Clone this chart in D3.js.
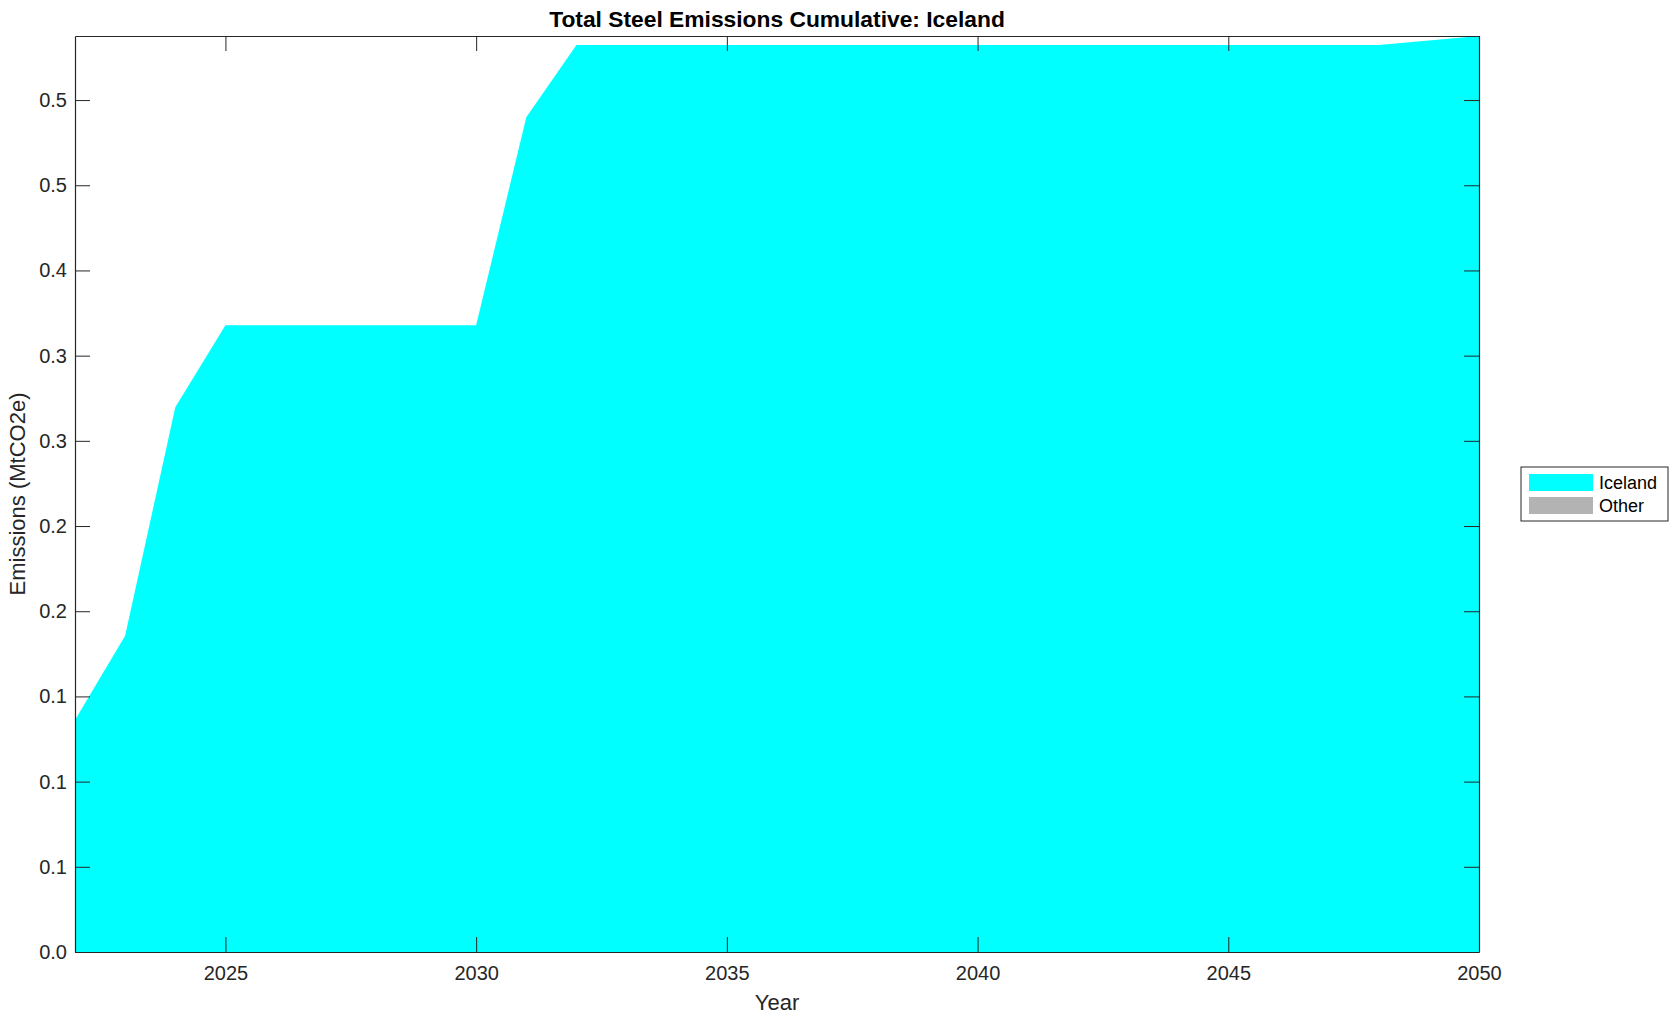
<!DOCTYPE html>
<html>
<head>
<meta charset="utf-8">
<script src="https://cdn.jsdelivr.net/npm/d3@7"></script>
<style>
  body { margin: 0; background: #fff; }
  text { font-family: "Liberation Sans", Arial, sans-serif; }
</style>
</head>
<body>
<script>
// data
const years = d3.range(2022, 2051);
const iceland = [
  0.1362, 0.1856, 0.3197, 0.3678, 0.3678, 0.3678, 0.3678, 0.3678, 0.3678,
  0.4899, 0.5323, 0.5323, 0.5323, 0.5323, 0.5323, 0.5323, 0.5323, 0.5323,
  0.5323, 0.5323, 0.5323, 0.5323, 0.5323, 0.5323, 0.5323, 0.5323, 0.5323,
  0.5350, 0.5376
];
const other = years.map(() => 0);
const seriesNames = ['Iceland', 'Other'];
const seriesColors = ['#00ffff', '#b3b3b3'];
const xTicks = [2025, 2030, 2035, 2040, 2045, 2050];
const yTicks = [0, 0.05, 0.1, 0.15, 0.2, 0.25, 0.3, 0.35, 0.4, 0.45, 0.5];
const yTickLabels = ['0.0', '0.1', '0.1', '0.1', '0.2', '0.2', '0.3', '0.3', '0.4', '0.5', '0.5'];

const W = 1679, H = 1021;
const m = { left: 75, right: 1479, top: 36, bottom: 952 };
const ink = '#262626';

const svg = d3.select('body').append('svg').attr('width', W).attr('height', H);

const x = d3.scaleLinear().domain([2022, 2050]).range([m.left, m.right]);
const yMax = d3.max(years, (d, i) => iceland[i] + other[i]);
const y = d3.scaleLinear().domain([0, yMax]).range([m.bottom, m.top]);

const rows = years.map((yr, i) => ({ year: yr, Iceland: iceland[i], Other: other[i] }));
const stacked = d3.stack().keys(seriesNames)(rows);

const area = d3.area()
  .x(d => x(d.data.year))
  .y0(d => y(d[0]))
  .y1(d => y(d[1]));

svg.selectAll('path.layer')
  .data(stacked)
  .enter()
  .append('path')
  .attr('class', 'layer')
  .attr('d', area)
  .attr('fill', (d, i) => seriesColors[i]);

// axes, ticks inside, box all round
function style(g) {
  g.selectAll('.domain').attr('stroke', ink);
  g.selectAll('.tick line').attr('stroke', ink);
  g.selectAll('.tick text').attr('fill', ink).attr('font-size', 20);
}

svg.append('g')
  .attr('transform', `translate(0,${m.bottom})`)
  .call(d3.axisBottom(x).tickValues(xTicks).tickFormat(d3.format('d'))
    .tickSize(-15).tickSizeOuter(0).tickPadding(14))
  .call(style);

svg.append('g')
  .attr('transform', `translate(0,${m.top})`)
  .call(d3.axisTop(x).tickValues(xTicks).tickFormat('')
    .tickSize(-15).tickSizeOuter(0))
  .call(style);

svg.append('g')
  .attr('transform', `translate(${m.left},0)`)
  .call(d3.axisLeft(y).tickValues(yTicks).tickFormat((d, i) => yTickLabels[i])
    .tickSize(-15).tickSizeOuter(0).tickPadding(8))
  .call(style);

svg.append('g')
  .attr('transform', `translate(${m.right},0)`)
  .call(d3.axisRight(y).tickValues(yTicks).tickFormat('')
    .tickSize(-15).tickSizeOuter(0))
  .call(style);

svg.selectAll('.domain').attr('stroke-width', 1.2);

// title and labels
const cx = (m.left + m.right) / 2;
svg.append('text')
  .attr('x', cx).attr('y', 27)
  .attr('text-anchor', 'middle')
  .attr('font-size', 22.8).attr('font-weight', 'bold')
  .attr('fill', '#000')
  .text('Total Steel Emissions Cumulative: Iceland');

svg.append('text')
  .attr('x', cx).attr('y', 1010)
  .attr('text-anchor', 'middle')
  .attr('font-size', 22).attr('fill', ink)
  .text('Year');

svg.append('text')
  .attr('transform', `translate(25,${(m.top + m.bottom) / 2}) rotate(-90)`)
  .attr('text-anchor', 'middle')
  .attr('font-size', 22).attr('fill', ink)
  .text('Emissions (MtCO2e)');

// legend
const lg = svg.append('g').attr('transform', 'translate(1521,467)');
lg.append('rect')
  .attr('width', 147).attr('height', 54)
  .attr('fill', '#fff').attr('stroke', ink).attr('stroke-width', 1);
const item = lg.selectAll('g.item')
  .data(seriesNames)
  .enter()
  .append('g')
  .attr('class', 'item')
  .attr('transform', (d, i) => `translate(8,${7 + i * 23})`);
item.append('rect')
  .attr('width', 64).attr('height', 17)
  .attr('fill', (d, i) => seriesColors[i]);
item.append('text')
  .attr('x', 70).attr('y', 15)
  .attr('font-size', 18).attr('fill', '#000')
  .text(d => d);
</script>
</body>
</html>
